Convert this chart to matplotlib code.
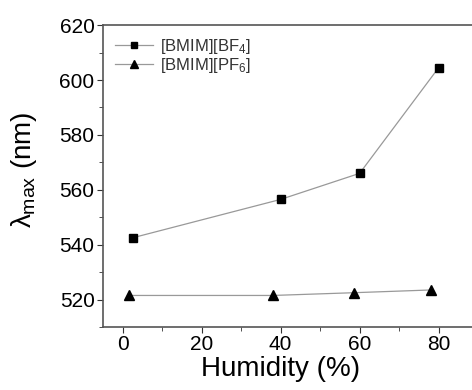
import numpy as np
import matplotlib
matplotlib.use('Agg')
import matplotlib.pyplot as plt
from matplotlib.ticker import MultipleLocator

plt.rcParams['font.family'] = ['Liberation Sans', 'DejaVu Sans']
plt.rcParams['mathtext.fontset'] = 'custom'
plt.rcParams['mathtext.rm'] = 'Liberation Sans'
plt.rcParams['mathtext.it'] = 'Liberation Sans'

# humidity (%) vs lambda_max (nm)
hum_bf4 = [2.5, 40, 60, 80]
lam_bf4 = [542.5, 556.5, 566, 604.5]
hum_pf6 = [1.5, 38, 58.5, 78]
lam_pf6 = [521.5, 521.5, 522.5, 523.5]

fig = plt.figure(figsize=(4.72, 3.9), dpi=100)
ax = fig.add_axes([0.218, 0.1615, 0.795, 0.774])

ax.plot(hum_bf4, lam_bf4, color='#999999', lw=0.9, marker='s', ms=6,
        mfc='black', mec='black', label='[BMIM][BF$_4$]')
ax.plot(hum_pf6, lam_pf6, color='#999999', lw=0.9, marker='^', ms=7.5,
        mfc='black', mec='black', label='[BMIM][PF$_6$]')

ax.set_xlim(-5, 90)
ax.set_ylim(510, 620)
ax.xaxis.set_major_locator(MultipleLocator(20))
ax.xaxis.set_minor_locator(MultipleLocator(10))
ax.yaxis.set_major_locator(MultipleLocator(20))
ax.yaxis.set_minor_locator(MultipleLocator(10))
ax.tick_params(which='both', direction='out', labelsize=15, colors='#333333',
               labelcolor='black', pad=2)
ax.tick_params(which='major', length=4)
ax.tick_params(which='minor', length=3)
for s in ax.spines.values():
    s.set_color('#555555')
    s.set_linewidth(1.2)

ax.set_xlabel('Humidity (%)', fontsize=20)
ax.xaxis.set_label_coords(0.474, -0.095, transform=ax.transAxes)
ax.xaxis.label.set_va('top')
ax.set_ylabel('$\\lambda_{max}$ (nm)', fontsize=20)
ax.yaxis.set_label_coords(-0.21, 0.52)
ax.yaxis.label.set_va('center')

leg = ax.legend(loc='upper left', fontsize=12, frameon=False,
                handlelength=2.3, handletextpad=0.4, labelspacing=0.0,
                borderaxespad=0.3, markerscale=0.75)
for t in leg.get_texts():
    t.set_color('#333333')

plt.savefig('out.png', dpi=100)
plt.close()
